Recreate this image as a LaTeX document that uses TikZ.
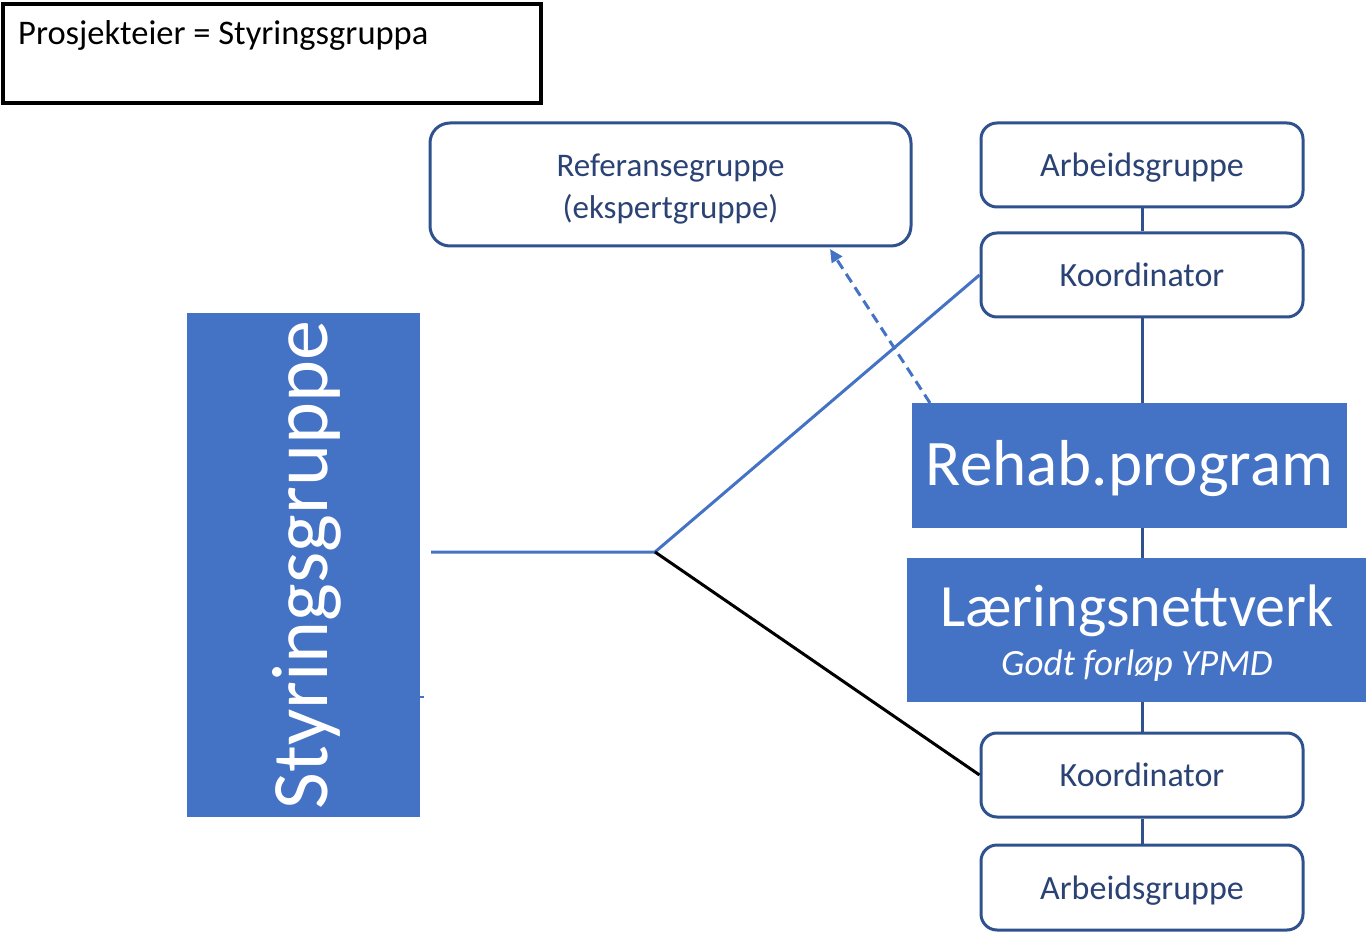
\documentclass[tikz,border=0pt]{standalone}
\usepackage{fontspec}
\setmainfont{Carlito}
\usetikzlibrary{arrows.meta}
\definecolor{fillblue}{HTML}{4472C4}
\definecolor{edgeblue}{HTML}{2F528F}
\definecolor{txtblue}{HTML}{2B4275}
\tikzset{
  outbox/.style={draw=edgeblue, line width=3pt, rounded corners=16pt, fill=white,
    minimum width=322pt, minimum height=84pt, inner sep=0pt, text=txtblue,
    text height=25pt, text depth=2pt,
    font=\fontsize{34}{40}\selectfont, align=center},
  solidbox/.style={fill=fillblue, draw=none, inner sep=0pt, text=white},
  conn/.style={edgeblue, line width=3pt},
  lconn/.style={fillblue, line width=3pt},
}
\begin{document}
\begin{tikzpicture}[x=1pt,y=-1pt]
\useasboundingbox (0,0) rectangle (1366,933);
% owner box
\node[draw=black, line width=3.5pt, minimum width=538pt, minimum height=99pt, inner sep=0pt] (owner) at (272,53.5) {};
\node[anchor=base west, inner sep=0pt, font=\fontsize{34.5}{40}\selectfont] (ownert) at (18,45) {Prosjekteier = Styringsgruppa};
% reference group
\node[draw=edgeblue, line width=3pt, rounded corners=20pt, minimum width=481pt, minimum height=123pt, inner sep=0pt] (ref) at (670.5,184.5) {};
\node[text=txtblue, inner sep=0pt, align=center, font=\fontsize{33}{42}\selectfont] (reft) at (670.5,189) {Referansegruppe\\(ekspertgruppe)};
% right column
\node[outbox] (arb1) at (1142,165) {Arbeidsgruppe};
\node[outbox] (koo1) at (1142,275) {Koordinator};
\node[solidbox, minimum width=435pt, minimum height=125pt] (rehab) at (1129.5,465.5) {};
\node[text=white, inner sep=0pt, font=\fontsize{65}{70}\selectfont] (rehabt) at (1129.5,469) {Rehab.program};
\node[solidbox, minimum width=459pt, minimum height=144pt] (laer) at (1136.5,630) {};
\node[text=white, inner sep=0pt, font=\fontsize{60}{66}\selectfont] (laert) at (1137,611) {Læringsnettverk};
\node[text=white, inner sep=0pt, font=\fontsize{37}{42}\selectfont\itshape] (laers) at (1137,666) {Godt forløp YPMD};
\node[outbox] (koo2) at (1142,775) {Koordinator};
\node[outbox, minimum height=85pt] (arb2) at (1142,887.5) {Arbeidsgruppe};
% left block
\node[solidbox, minimum width=233pt, minimum height=504pt] (styr) at (303.5,565) {};
\node[text=white, inner sep=0pt, rotate=90, font=\fontsize{80}{86}\selectfont] (styrt) at (307,565) {Styringsgruppe};
% connectors in the column
\draw[conn] (arb1.south) -- (koo1.north);
\draw[conn] (koo1.south) -- (koo1.south |- rehab.north);
\draw[conn] (koo1.south |- rehab.south) -- (koo1.south |- laer.north);
\draw[conn] (koo2.north |- laer.south) -- (koo2.north);
\draw[conn] (koo2.south) -- (arb2.north);
% fork
\coordinate (hs) at (431,552);
\coordinate (j) at (655,552);
\draw[lconn] (hs) -- (j) -- (koo1.west);
\draw[black, line width=3pt] (j) -- (koo2.west);
% small tick
\coordinate (tk) at (424,697);
\draw[fillblue, line width=2.5pt] (styr.east |- tk) -- (tk);
% dashed arrow
\coordinate (ds) at (930,403);
\coordinate (de) at (830,249);
\draw[fillblue, line width=3pt, dash pattern=on 10pt off 6pt, -{Triangle[length=13pt,width=12pt]}] (ds) -- (de);
\end{tikzpicture}
\end{document}
